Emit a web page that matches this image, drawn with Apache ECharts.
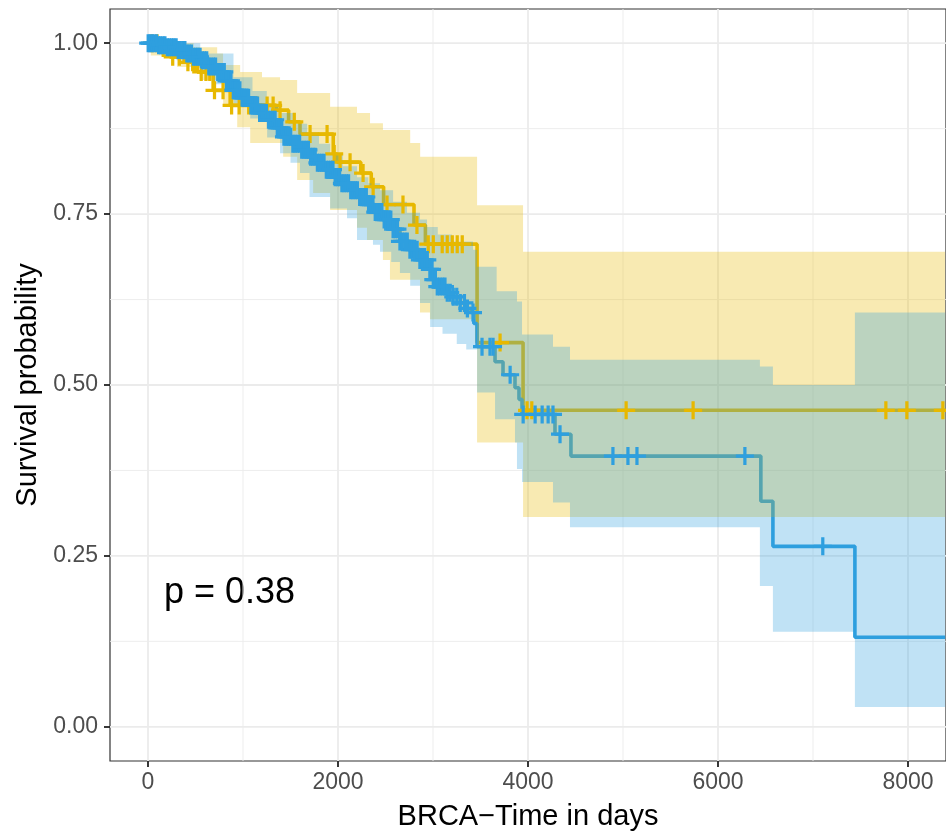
<!DOCTYPE html>
<html><head><meta charset="utf-8">
<script src="https://cdn.jsdelivr.net/npm/echarts@6/dist/echarts.min.js"></script>
<style>html,body{margin:0;padding:0;background:#fff}#c{width:946px;height:836px}</style>
</head><body><div id="c"></div>
<script>
// ---- axis ticks ----
const xTicks = [0, 2000, 4000, 6000, 8000];
const xMinor = [1000, 3000, 5000, 7000];
const yTicks = [0, 0.25, 0.5, 0.75, 1];
const yMinor = [0.125, 0.375, 0.625, 0.875];
const xTitle = 'BRCA\u2212Time in days';
const yTitle = 'Survival probability';
const pLabel = 'p = 0.38';
const maxFollowUp = 8391;

// ---- Kaplan-Meier steps [time, survival] ----
const yellowSteps = [[0,1.000],[110,0.993],[230,0.980],[380,0.972],[520,0.958],[686,0.931],[865,0.909],[1350,0.902],[1480,0.885],[1600,0.867],[1950,0.838],[1990,0.826],[2240,0.810],[2350,0.790],[2480,0.764],[2800,0.734],[2920,0.706],[3464,0.562],[3948,0.463]];
const blueSteps = [[0,1.000],[100,0.997],[202,0.994],[300,0.990],[391,0.985],[470,0.980],[549,0.975],[640,0.966],[728,0.958],[810,0.945],[897,0.931],[990,0.920],[1076,0.909],[1160,0.898],[1254,0.888],[1340,0.876],[1423,0.863],[1510,0.853],[1600,0.844],[1690,0.834],[1779,0.825],[1860,0.815],[1948,0.804],[2040,0.795],[2126,0.785],[2215,0.775],[2305,0.764],[2390,0.753],[2473,0.742],[2560,0.728],[2652,0.710],[2757,0.698],[2862,0.683],[2967,0.669],[3003,0.654],[3045,0.644],[3150,0.635],[3213,0.629],[3287,0.620],[3360,0.612],[3400,0.606],[3430,0.590],[3464,0.556],[3653,0.534],[3737,0.515],[3863,0.496],[3905,0.479],[3937,0.457],[4284,0.428],[4452,0.396],[6451,0.330],[6578,0.264],[7441,0.131]];

// ---- confidence bands [time, bound] ----
const yellowUpper = [[0,1.0],[480,0.994],[728,0.985],[790,0.968],[970,0.958],[1200,0.950],[1390,0.946],[1570,0.927],[1917,0.907],[2200,0.898],[2337,0.883],[2473,0.873],[2760,0.854],[2865,0.834],[3464,0.763],[3948,0.695]];
const yellowLower = [[0,1.0],[30,0.982],[307,0.965],[549,0.946],[791,0.907],[939,0.877],[1076,0.854],[1423,0.834],[1570,0.800],[1738,0.781],[1917,0.756],[2200,0.730],[2305,0.712],[2473,0.683],[2547,0.654],[2863,0.606],[2968,0.596],[3464,0.416],[3948,0.307]];
const blueUpper = [[0,1.0],[550,0.985],[900,0.950],[1100,0.930],[1250,0.910],[1390,0.898],[1530,0.882],[1675,0.869],[1800,0.853],[1917,0.839],[2050,0.820],[2200,0.804],[2320,0.795],[2442,0.785],[2580,0.768],[2726,0.752],[2863,0.742],[2937,0.731],[3050,0.720],[3200,0.710],[3421,0.698],[3464,0.673],[3670,0.637],[3884,0.622],[3937,0.574],[4263,0.556],[4442,0.537],[6441,0.527],[6578,0.500],[7441,0.606]];
const blueLower = [[0,1.0],[100,0.988],[300,0.975],[549,0.958],[700,0.940],[900,0.912],[1076,0.890],[1254,0.862],[1390,0.839],[1500,0.825],[1600,0.810],[1700,0.775],[1917,0.758],[2095,0.744],[2200,0.712],[2368,0.705],[2442,0.695],[2560,0.680],[2652,0.664],[2760,0.645],[2863,0.620],[2970,0.585],[3100,0.575],[3250,0.560],[3350,0.552],[3464,0.489],[3653,0.450],[3863,0.416],[3884,0.377],[3937,0.358],[4263,0.328],[4442,0.292],[6441,0.206],[6578,0.139],[7441,0.029]];

// ---- censoring times ----
const yellowCensor = [40,95,160,200,260,330,420,470,500,560,610,650,700,790,880,960,1060,1150,1254,1317,1390,1540,1706,1885,1960,2022,2127,2264,2370,2516,2684,2831,2950,3003,3097,3150,3203,3255,3308,3706,3990,4040,5033,5738,7767,7988,8367];
const blueCensor = [2,21,44,63,90,112,131,157,178,203,224,249,271,296,318,339,366,388,409,433,457,478,503,524,548,571,593,618,640,662,689,711,734,757,781,803,826,851,873,898,919,944,967,990,1012,1037,1059,1083,1106,1128,1153,1175,1199,1222,1246,1268,1291,1316,1338,1361,1385,1408,1431,1455,1478,1502,1525,1548,1572,1596,1618,1643,1666,1689,1712,1736,1760,1783,1806,1829,1853,1877,1900,1923,1947,1970,1994,2017,2041,2064,2088,2111,2134,2158,2182,2204,2228,2251,2275,2298,2322,2345,2368,2392,2415,2439,2462,2486,2509,2532,2556,2580,2603,2626,2652,2676,2703,2729,2757,2782,2806,2833,2862,2888,2912,2940,2967,2990,3003,3025,3045,3072,3101,3126,3150,3181,3213,3250,3287,3331,3362,3421,3516,3600,3632,3812,3949,4075,4149,4212,4263,4337,4894,5052,5147,6283,7103];

const YELLOW = '#E7B800', BLUE = '#2E9FDF';

function survAt(steps, t) {
  let v = steps[0][1];
  for (const s of steps) { if (s[0] <= t) v = s[1]; else break; }
  return v;
}
function lineData(steps) { return steps.concat([[maxFollowUp, steps[steps.length-1][1]]]); }
function stepPath(steps) {
  const pts = [];
  for (let i = 0; i < steps.length; i++) {
    const t0 = steps[i][0], v = steps[i][1];
    const t1 = i + 1 < steps.length ? steps[i+1][0] : maxFollowUp;
    pts.push([t0, v], [t1, v]);
  }
  return pts;
}
function bandSeries(upper, lower, color, z) {
  return {
    type: 'custom', coordinateSystem: 'cartesian2d', silent: true, z: z,
    data: [[0, 0]],
    renderItem: function (params, api) {
      const up = stepPath(upper), lo = stepPath(lower).reverse();
      const pts = up.concat(lo).map(p => api.coord(p));
      return { type: 'polygon', shape: { points: pts }, style: { fill: color } };
    }
  };
}
function gridSeries(vals, dir, width) {
  return {
    type: 'custom', coordinateSystem: 'cartesian2d', silent: true, z: 1,
    data: vals.map(v => dir === 'x' ? [v, 0] : [0, v]),
    renderItem: function (params, api) {
      const cs = params.coordSys;
      let shape;
      if (dir === 'x') {
        const px = api.coord([api.value(0), 0])[0];
        shape = { x1: px, y1: cs.y, x2: px, y2: cs.y + cs.height };
      } else {
        const py = api.coord([0, api.value(1)])[1];
        shape = { x1: cs.x, y1: py, x2: cs.x + cs.width, y2: py };
      }
      return { type: 'line', shape: shape, style: { stroke: '#EBEBEB', lineWidth: width } };
    }
  };
}
const PLUS = 'path://M4.1,0H5.9V4.1H10V5.9H5.9V10H4.1V5.9H0V4.1H4.1Z';
const FONT = '"Liberation Sans", Arial, sans-serif';

const chart = echarts.init(document.getElementById('c'), null, { renderer: 'canvas' });
chart.setOption({
  animation: false,
  backgroundColor: '#ffffff',
  grid: { left: 110, right: 0, top: 9, bottom: 73.5, show: true, borderColor: '#333333', borderWidth: 1.2, backgroundColor: '#ffffff' },
  xAxis: {
    type: 'value', min: -400, max: 8400,
    axisLine: { show: false, onZero: false }, splitLine: { show: false },
    axisTick: { show: true, customValues: xTicks, length: 6, lineStyle: { color: '#222222', width: 1.8 } },
    axisLabel: { customValues: xTicks, color: '#4D4D4D', fontSize: 23, fontFamily: FONT, margin: 10, formatter: v => String(v) },
    name: xTitle, nameLocation: 'middle', nameGap: 41,
    nameTextStyle: { color: '#000', fontSize: 29, fontFamily: FONT }
  },
  yAxis: {
    type: 'value', min: -0.05, max: 1.05,
    axisLine: { show: false, onZero: false }, splitLine: { show: false },
    axisTick: { show: true, customValues: yTicks, length: 6, lineStyle: { color: '#222222', width: 1.8 } },
    axisLabel: { customValues: yTicks, color: '#4D4D4D', fontSize: 23, fontFamily: FONT, margin: 12, formatter: v => v.toFixed(2) },
    name: yTitle, nameLocation: 'middle', nameGap: 68,
    nameTextStyle: { color: '#000', fontSize: 29, fontFamily: FONT }
  },
  series: [
    gridSeries(xMinor, 'x', 0.9), gridSeries(yMinor, 'y', 0.9),
    gridSeries(xTicks, 'x', 1.8), gridSeries(yTicks, 'y', 1.8),
    { type: 'line', step: 'end', z: 2, showSymbol: false, silent: true, data: lineData(yellowSteps), lineStyle: { color: YELLOW, width: 3.6 }, itemStyle: { color: YELLOW } },
    { type: 'line', step: 'end', z: 2, showSymbol: false, silent: true, data: lineData(blueSteps), lineStyle: { color: BLUE, width: 3.6 }, itemStyle: { color: BLUE } },
    bandSeries(yellowUpper, yellowLower, 'rgba(231,184,0,0.3)', 3),
    bandSeries(blueUpper, blueLower, 'rgba(46,159,223,0.3)', 4),
    { type: 'scatter', z: 5, silent: true, symbol: PLUS, symbolSize: 18, itemStyle: { color: YELLOW, opacity: 1 }, data: yellowCensor.map(t => [t, survAt(yellowSteps, t)]) },
    { type: 'scatter', z: 6, silent: true, symbol: PLUS, symbolSize: 18, itemStyle: { color: BLUE, opacity: 1 }, data: blueCensor.map(t => [t, survAt(blueSteps, t)]) }
  ],
  graphic: [{ type: 'text', left: 164, top: 575, style: { text: pLabel, font: '36px ' + FONT, fill: '#000' } }]
});
</script></body></html>
